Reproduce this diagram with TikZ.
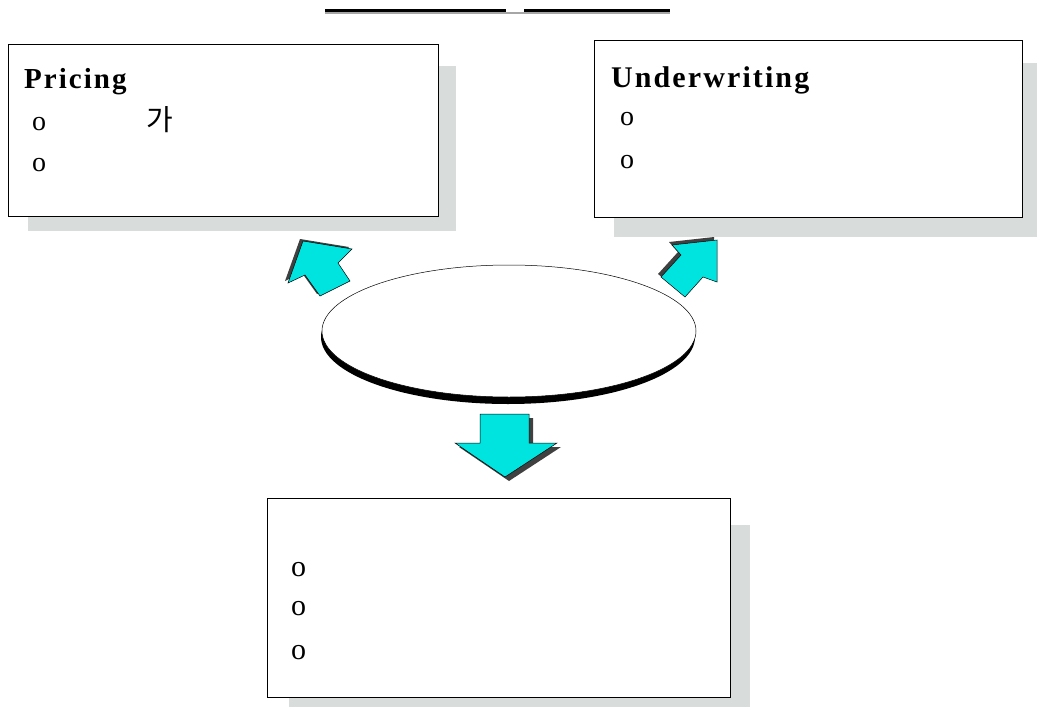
\documentclass[tikz,border=0pt]{standalone}
\usepackage{fontspec}
\setmainfont{Liberation Serif}
\newfontfamily\krfont{Noto Sans CJK KR}
\newfontfamily\boldsp[LetterSpace=7]{Liberation Serif Bold}
\usetikzlibrary{shapes.geometric}
\definecolor{shadowgray}{RGB}{216,220,218}
\definecolor{arrcyan}{RGB}{0,228,224}
\definecolor{arrshadow}{RGB}{64,64,64}
\tikzset{
  boxshadow/.style={fill=shadowgray, draw=none},
  boxframe/.style={fill=white, draw=black, line width=1pt},
  headtext/.style={anchor=base west, inner sep=0pt, font=\boldsp\fontsize{29}{32}\selectfont},
  bullettext/.style={anchor=base west, inner sep=0pt, font=\fontsize{28}{32}\selectfont},
  arrfill/.style={fill=arrcyan, draw=black, line width=0.5pt},
  arrshad/.style={fill=arrshadow, draw=none},
}
\begin{document}
\begin{tikzpicture}[x=1pt,y=-1pt]
\useasboundingbox (0,0) rectangle (1037,707);
% title underline
\draw[line width=1.6pt, gray!70] (325,13) -- (670,13);
\draw[line width=2.2pt, black] (325,10.5) -- (506,10.5);
\draw[line width=2.2pt, black] (524,10.5) -- (670,10.5);
% Pricing box
\fill[boxshadow] (28,66) rectangle (456,231);
\node[boxframe, anchor=north west, minimum width=430pt, minimum height=172pt, inner sep=0pt] (pricing) at (8,44) {};
\node[headtext] (pricingT) at (24,88) {Pricing};
\node[bullettext] (p1) at (32,130) {o};
\node[anchor=base west, inner sep=0pt, font=\krfont\fontsize{29}{32}\selectfont] (p1k) at (146,130) {가};
\node[bullettext] (p2) at (32,171) {o};
% Underwriting box
\fill[boxshadow] (614,63) rectangle (1037,237);
\node[boxframe, anchor=north west, minimum width=428pt, minimum height=177pt, inner sep=0pt] (under) at (594,40) {};
\node[headtext, font=\boldsp\fontsize{30}{34}\selectfont] (underT) at (611,87) {Underwriting};
\node[bullettext] (u1) at (620,125) {o};
\node[bullettext] (u2) at (620,168) {o};
% Bottom box
\fill[boxshadow] (289,525) rectangle (750,707);
\node[boxframe, anchor=north west, minimum width=463pt, minimum height=199pt, inner sep=0pt] (bottom) at (267,498) {};
\node[bullettext, font=\fontsize{30}{32}\selectfont] (b1) at (291,576) {o};
\node[bullettext, font=\fontsize{30}{32}\selectfont] (b2) at (291,615) {o};
\node[bullettext, font=\fontsize{30}{32}\selectfont] (b3) at (291,659) {o};
% Ellipse
\fill[black] (508,337) ellipse [x radius=187, y radius=67];
\node[ellipse, draw=black, line width=0.5pt, fill=white, minimum width=374pt, minimum height=132pt, inner sep=0pt] (center) at (509,331) {};
% Left arrow
\begin{scope}[shift={(-3,-2)}]
\fill[arrshad] (303,241) -- (352,249) -- (338,263) -- (350,281) -- (320,296) -- (305,275) -- (288,283) -- cycle;
\end{scope}
\draw[arrfill] (303,241) -- (352,249) -- (338,263) -- (350,281) -- (320,296) -- (305,275) -- (288,283) -- cycle;
% Right arrow
\begin{scope}[shift={(-3,-3)}]
\fill[arrshad] (717,240) -- (672,245) -- (681,255) -- (661,277) -- (685,297) -- (703,277) -- (717,282) -- cycle;
\end{scope}
\draw[arrfill] (717,240) -- (672,245) -- (681,255) -- (661,277) -- (685,297) -- (703,277) -- (717,282) -- cycle;
% Down arrow
\begin{scope}[shift={(4,4)}]
\fill[arrshad] (480,414) -- (529,414) -- (529,443) -- (557,443) -- (505,477) -- (455,443) -- (480,443) -- cycle;
\end{scope}
\draw[arrfill] (480,414) -- (529,414) -- (529,443) -- (557,443) -- (505,477) -- (455,443) -- (480,443) -- cycle;
\end{tikzpicture}
\end{document}
